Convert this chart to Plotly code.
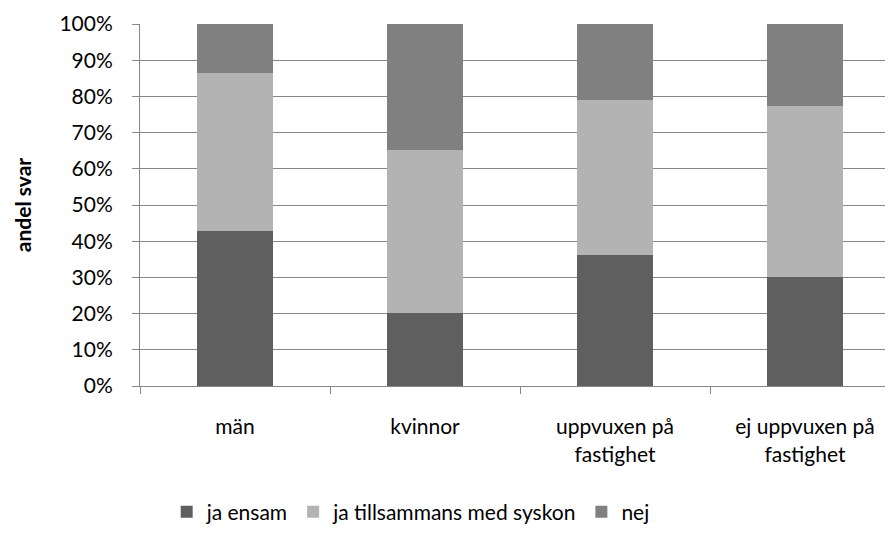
import plotly.graph_objects as go

categories = ["män", "kvinnor", "uppvuxen på fastighet", "ej uppvuxen på fastighet"]
tick_labels = ["män", "kvinnor", "uppvuxen på<br>fastighet", "ej uppvuxen på<br>fastighet"]
ja_ensam = [0.429, 0.202, 0.362, 0.300]
ja_tillsammans = [0.436, 0.451, 0.428, 0.473]
nej = [0.135, 0.347, 0.210, 0.227]

series_names = ["ja ensam", "ja tillsammans med syskon", "nej"]
series_values = [ja_ensam, ja_tillsammans, nej]
colors = ["#5f5f5f", "#b3b3b3", "#808080"]

FONT = "Lato"
FS = 21

fig = go.Figure()
for name, vals, col in zip(series_names, series_values, colors):
    fig.add_trace(go.Bar(
        x=categories, y=vals, name=name,
        marker=dict(color=col, line=dict(width=0)),
        width=0.395,
    ))

# page body adds an 8px margin on left/top, so the figure is 8px smaller
fig.update_layout(
    barmode="stack",
    width=885, height=534,
    margin=dict(l=132, r=0, t=16, b=156),
    paper_bgcolor="white", plot_bgcolor="white",
    font=dict(family=FONT, size=FS, color="#000000"),
    showlegend=True,
    legend=dict(
        orientation="h", xref="container", yref="container",
        x=0.455, xanchor="center", y=1 - (512 - 8) / 534, yanchor="middle",
        font=dict(family=FONT, size=FS, color="#000000"),
        traceorder="normal",
    ),
    xaxis=dict(
        type="category",
        categoryorder="array", categoryarray=categories,
        tickvals=categories, ticktext=tick_labels,
        range=[-0.5, -0.5 + 753 / 190],
        showgrid=False,
        showline=True, linecolor="#868686", linewidth=1,
        ticks="outside", tickson="boundaries", ticklen=7, tickcolor="#868686",
        tickfont=dict(family=FONT, size=FS),
        ticklabelstandoff=22,
    ),
    yaxis=dict(
        range=[0, 1], dtick=0.1, tickformat=".0%",
        showgrid=True, gridcolor="#868686", gridwidth=1,
        showline=True, linecolor="#868686", linewidth=1,
        ticks="outside", ticklen=7, tickcolor="#868686",
        tickfont=dict(family=FONT, size=FS),
        ticklabelstandoff=15,
        zeroline=False,
        title=dict(text="<b>andel svar</b>", font=dict(family=FONT, size=FS), standoff=22),
    ),
)

fig.write_html("out.html")
